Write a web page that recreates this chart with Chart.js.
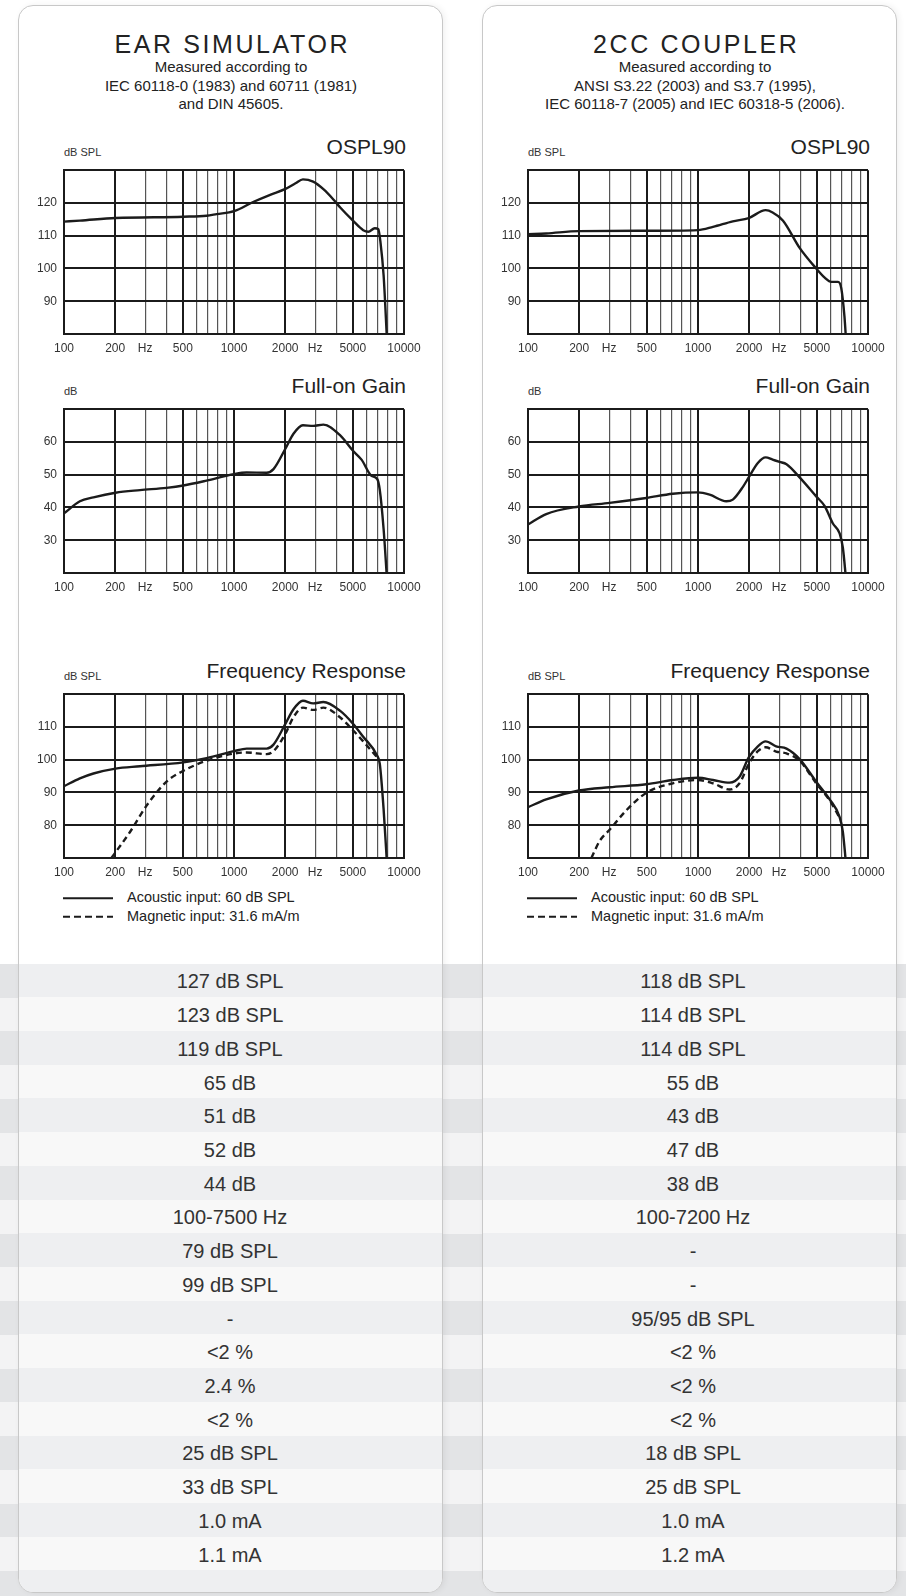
<!DOCTYPE html>
<html>
<head>
<meta charset="utf-8">
<script src="https://cdn.jsdelivr.net/npm/chart.js@4.4.1/dist/chart.umd.min.js"></script>
<style>
  body { margin:0; width:906px; height:1596px; position:relative; overflow:hidden; background:#fff;
         font-family:'Liberation Sans', Arial, sans-serif; color:#2a2a2a; }
  .stripe { position:absolute; }
  .panel { position:absolute; box-sizing:border-box; border:1.5px solid #c8c8c8; border-radius:15px;
           overflow:hidden; background:#fff; box-shadow:2px 0 6px rgba(0,0,0,0.06); }
  .t { position:absolute; white-space:nowrap; }
  canvas { position:absolute; }
</style>
</head>
<body>
<script>
// ---------- axis definitions ----------
const xGridValues = [100,200,300,400,500,600,700,800,900,1000,2000,3000,4000,5000,6000,7000,8000,9000,10000];
const xLabelValues = [100,200,300,500,1000,2000,3000,5000,10000];
const xLabelTexts  = ['100','200','Hz','500','1000','2000','Hz','5000','10000'];
const osplTicks = [90,100,110,120];
const gainTicks = [30,40,50,60];
const respTicks = [80,90,100,110];

// ---------- ear simulator curves ----------
const earOsplFreq = [100,124,201,503,690,791,1000,1296,1632,2009,2300,2543,2921,3355,3853,4216,5010,5756,6168,6730,7062,7272,7584,7946];
const earOsplDb   = [114.3,114.6,115.4,115.8,116.1,116.6,117.5,120.3,122.5,124.3,126.0,127.2,126.5,124.2,121.0,118.6,114.6,111.7,111.2,112.3,112.0,108.0,98.0,78.0];

const earGainFreq = [100,124,149,201,280,401,503,690,1000,1187,1557,1707,2009,2238,2543,2921,3355,4216,5010,5625,6429,6955,7206,7584,7946];
const earGainDb   = [38.2,41.9,43.1,44.5,45.3,46.0,46.7,48.2,50.2,50.7,50.6,51.7,58.0,62.5,65.1,64.9,65.3,62.0,57.3,54.6,49.7,48.7,45.3,33.5,18.0];

const earRespAcFreq  = [100,124,149,201,280,503,690,1000,1187,1557,1707,2009,2238,2543,2921,3355,4216,5010,5756,6955,7206,7584,7946];
const earRespAcDb    = [91.9,94.3,95.8,97.3,98.0,99.2,100.5,102.6,103.4,103.4,104.6,111.0,115.4,118.0,117.2,117.6,114.9,111.0,107.0,101.2,98.7,85.0,68.0];
const earRespMagFreq = [190,245,306,401,503,690,1000,1187,1557,1707,2009,2238,2543,2921,3355,4216,5010,5756,6955];
const earRespMagDb   = [70.0,78.0,86.0,93.3,96.6,99.7,101.9,102.2,101.7,102.6,108.0,113.0,115.9,115.2,115.9,112.9,109.0,105.6,100.7];

// ---------- 2cc coupler curves ----------
const cplOsplFreq = [100,128,199,497,1000,1225,1602,1988,2500,2748,3164,3960,4958,5563,6081,6662,6960,7271,7431];
const cplOsplDb   = [110.5,110.7,111.4,111.5,111.7,112.7,114.4,115.4,117.8,117.1,114.6,106.3,100.0,97.2,95.9,95.9,94.0,85.3,78.0];

const cplGainFreq = [100,128,199,302,497,711,1000,1171,1468,1602,1838,1988,2249,2500,2748,3021,3317,3960,4958,5563,6216,6809,7114,7431];
const cplGainDb   = [34.8,38.0,40.3,41.4,42.9,44.2,44.6,43.9,41.9,42.4,46.3,49.2,53.6,55.3,54.6,53.9,53.2,49.2,43.4,40.4,35.1,32.1,27.7,18.0];

const cplRespAcFreq  = [100,128,199,302,497,711,1000,1225,1535,1755,1988,2249,2500,2882,3317,3960,4958,5948,6809,7114,7431];
const cplRespAcDb    = [85.5,87.9,90.6,91.6,92.5,93.8,94.5,93.8,93.0,94.8,100.7,104.1,105.6,104.1,103.4,100.2,93.3,87.9,82.5,78.0,68.0];
const cplRespMagFreq = [236,264,302,378,497,711,1000,1225,1535,1755,1988,2249,2500,2882,3317,3960,4958,5948,6809];
const cplRespMagDb   = [70.0,75.2,78.6,84.5,89.9,92.8,93.8,92.8,90.9,92.8,98.7,102.6,103.8,102.5,101.9,99.7,92.8,87.6,82.3];

// ---------- specification table ----------
const earSpecs = ['127 dB SPL','123 dB SPL','119 dB SPL','65 dB','51 dB','52 dB','44 dB','100-7500 Hz',
  '79 dB SPL','99 dB SPL','-','<2 %','2.4 %','<2 %','25 dB SPL','33 dB SPL','1.0 mA','1.1 mA'];
const couplerSpecs = ['118 dB SPL','114 dB SPL','114 dB SPL','55 dB','43 dB','47 dB','38 dB','100-7200 Hz',
  '-','-','95/95 dB SPL','<2 %','<2 %','<2 %','18 dB SPL','25 dB SPL','1.0 mA','1.2 mA'];

const FONT = "'Liberation Sans', Arial, sans-serif";
const INK = '#1b1b1b';

// ---------- helpers ----------
function txt(s, x, y, size, align, extra) {
  const d = document.createElement('div');
  d.className = 't';
  d.textContent = s;
  d.style.fontSize = size + 'px';
  d.style.lineHeight = (size * 1.2) + 'px';
  d.style.top = (y - size * 0.6) + 'px';
  if (align === 'left') d.style.left = x + 'px';
  else if (align === 'right') d.style.right = (906 - x) + 'px';
  else { d.style.left = x + 'px'; d.style.transform = 'translateX(-50%)'; }
  Object.assign(d.style, extra || {});
  document.body.appendChild(d);
  return d;
}

const ROW_TOP = 964, ROW_H = 33.72;
const nRows = earSpecs.length + 1;

// outer stripes across the whole page
for (let i = 0; i < nRows; i++) {
  const s = document.createElement('div');
  s.className = 'stripe';
  s.style.left = '0px'; s.style.width = '906px';
  s.style.top = (ROW_TOP + i * ROW_H) + 'px';
  s.style.height = (i === nRows - 1 ? 40 : ROW_H + 0.5) + 'px';
  s.style.background = i % 2 === 0 ? '#e3e4e6' : '#f3f3f4';
  document.body.appendChild(s);
}

function panel(left, width) {
  const p = document.createElement('div');
  p.className = 'panel';
  p.style.left = left + 'px'; p.style.top = '5px';
  p.style.width = width + 'px'; p.style.height = '1588px';
  for (let i = 0; i < nRows; i++) {
    const s = document.createElement('div');
    s.className = 'stripe';
    s.style.left = '0px'; s.style.right = '0px';
    s.style.top = (ROW_TOP - 6.5 + i * ROW_H) + 'px';
    s.style.height = (i === nRows - 1 ? 40 : ROW_H + 0.5) + 'px';
    s.style.background = i % 2 === 0 ? '#eeeff1' : '#f8f8f8';
    p.appendChild(s);
  }
  document.body.appendChild(p);
}
panel(18, 425);
panel(482, 415);

function isMajor(v) {
  const m = v / Math.pow(10, Math.floor(Math.log10(v) + 1e-9));
  return Math.abs(m - 1) < 1e-6 || Math.abs(m - 2) < 1e-6 || Math.abs(m - 5) < 1e-6;
}

function makeChart(plotLeft, plotTop, yMin, yMax, yLabels, series) {
  const W = 340 + 34 + 24, H = 170 + 8 + 26;
  const c = document.createElement('canvas');
  c.width = W; c.height = H;
  c.style.left = (plotLeft - 34) + 'px';
  c.style.top = (plotTop - 8) + 'px';
  c.style.width = W + 'px'; c.style.height = H + 'px';
  document.body.appendChild(c);
  new Chart(c, {
    type: 'line',
    data: {
      datasets: series.map(s => ({
        data: s.freq.map((f, i) => ({ x: f, y: s.db[i] })),
        borderColor: INK,
        borderWidth: 2.4,
        borderDash: s.dash ? [6, 4] : [],
        pointRadius: 0,
        cubicInterpolationMode: 'monotone',
        fill: false
      }))
    },
    options: {
      responsive: false, animation: false, devicePixelRatio: 1,
      layout: { padding: { left: 0, top: 8, right: 24, bottom: 0 } },
      plugins: { legend: { display: false }, tooltip: { enabled: false } },
      scales: {
        x: {
          type: 'logarithmic', min: 100, max: 10000,
          afterBuildTicks: s => { s.ticks = xGridValues.map(v => ({ value: v })); },
          afterFit: s => { s.height = 26; },
          grid: {
            drawTicks: false,
            color: ctx => isMajor(ctx.tick.value) ? INK : '#555',
            lineWidth: ctx => isMajor(ctx.tick.value) ? 2 : 1.2
          },
          border: { display: true, color: INK, width: 2 },
          ticks: {
            autoSkip: false, maxRotation: 0, minRotation: 0, padding: 7, color: '#333',
            font: { family: FONT, size: 12 },
            callback: v => {
              const k = xLabelValues.indexOf(Math.round(v));
              return k >= 0 ? xLabelTexts[k] : '';
            }
          }
        },
        y: {
          min: yMin, max: yMax,
          afterFit: s => { s.width = 34; },
          grid: { drawTicks: false, color: INK, lineWidth: 2 },
          border: { display: true, color: INK, width: 2 },
          ticks: {
            stepSize: 10, padding: 7, color: '#333',
            font: { family: FONT, size: 12 },
            callback: v => yLabels.includes(v) ? String(v) : ''
          }
        }
      }
    }
  });
}

// ---------- one column of the sheet ----------
function column(dx, cx, title, subLines, ospl, gain, acou, mag) {
  const pl = 64 + dx;
  txt(title, cx + 1.3, 44, 25, 'center', { letterSpacing: '2.6px', color: '#222' });
  subLines.forEach((s, i) => txt(s, cx, 67 + i * 18.5, 15, 'center', { color: '#222' }));

  const tops = [164, 403, 688];
  const heads = [['dB SPL', 'OSPL90'], ['dB', 'Full-on Gain'], ['dB SPL', 'Frequency Response']];
  tops.forEach((t, i) => {
    txt(heads[i][0], pl, t - 11, 11, 'left', { color: '#333' });
    txt(heads[i][1], pl + 342, t - 17, 21, 'right', { color: '#222' });
  });

  makeChart(pl, 164, 80, 130, osplTicks, [{ freq: ospl[0], db: ospl[1] }]);
  makeChart(pl, 403, 20, 70, gainTicks, [{ freq: gain[0], db: gain[1] }]);
  makeChart(pl, 688, 70, 120, respTicks, [
    { freq: acou[0], db: acou[1] },
    { freq: mag[0], db: mag[1], dash: true }
  ]);

  // legend
  const svg = document.createElementNS('http://www.w3.org/2000/svg', 'svg');
  svg.setAttribute('width', '60'); svg.setAttribute('height', '30');
  svg.style.position = 'absolute'; svg.style.left = (pl - 2) + 'px'; svg.style.top = '890px';
  svg.innerHTML = '<line x1="1" y1="8.3" x2="51" y2="8.3" stroke="#1b1b1b" stroke-width="2"/>' +
                  '<line x1="1" y1="26.7" x2="51" y2="26.7" stroke="#1b1b1b" stroke-width="2" stroke-dasharray="7 4"/>';
  document.body.appendChild(svg);
  txt('Acoustic input: 60 dB SPL', pl + 63, 898, 14.5, 'left', { color: '#222' });
  txt('Magnetic input: 31.6 mA/m', pl + 63, 916.7, 14.5, 'left', { color: '#222' });
}

column(0, 231, 'EAR SIMULATOR',
  ['Measured according to', 'IEC 60118-0 (1983) and 60711 (1981)', 'and DIN 45605.'],
  [earOsplFreq, earOsplDb], [earGainFreq, earGainDb],
  [earRespAcFreq, earRespAcDb], [earRespMagFreq, earRespMagDb]);

column(464, 695, '2CC COUPLER',
  ['Measured according to', 'ANSI S3.22 (2003) and S3.7 (1995),', 'IEC 60118-7 (2005) and IEC 60318-5 (2006).'],
  [cplOsplFreq, cplOsplDb], [cplGainFreq, cplGainDb],
  [cplRespAcFreq, cplRespAcDb], [cplRespMagFreq, cplRespMagDb]);

// table values
earSpecs.forEach((s, i) => txt(s, 230, ROW_TOP + i * ROW_H + ROW_H / 2 + 0.5, 20, 'center', { color: '#333' }));
couplerSpecs.forEach((s, i) => txt(s, 693, ROW_TOP + i * ROW_H + ROW_H / 2 + 0.5, 20, 'center', { color: '#333' }));
</script>
</body>
</html>
